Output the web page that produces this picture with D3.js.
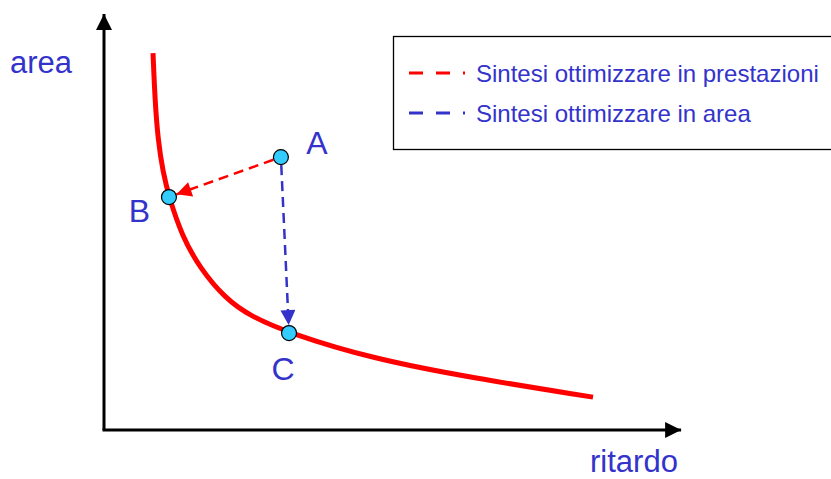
<!DOCTYPE html>
<html>
<head>
<meta charset="utf-8">
<script src="https://cdn.jsdelivr.net/npm/d3@7"></script>
<style>
  body { margin: 0; background: #fff; }
  text { font-family: "Liberation Sans", Arial, sans-serif; }
</style>
</head>
<body>
<svg id="chart" width="831" height="479"></svg>
<script>
// ---- data (abstract units: ritardo on x, area on y)
const curveX = [8.45, 8.79, 9.31, 10.17, 11.21, 13.45, 16.55, 20.86, 25.17, 31.9, 46.38, 63.62, 84.31];
const curveY = [90.6, 79.3, 69.7, 62.0, 56.0, 46.6, 38.9, 31.7, 27.4, 23.3, 17.1, 12.5, 7.9];
const pointNames = ["A", "B", "C"];
const pointX = [30.5, 11.2, 31.9];
const pointY = [65.6, 56.0, 23.3];
const legendLabels = ["Sintesi ottimizzare in prestazioni", "Sintesi ottimizzare in area"];
const legendColors = ["#ff0000", "#3333cc"];

const svg = d3.select("#chart");
const blue = "#3333cc";

const x = d3.scaleLinear().domain([0, 100]).range([104, 684]);
const y = d3.scaleLinear().domain([0, 100]).range([430, 14]);

const defs = svg.append("defs");
function marker(id, color, w, h) {
  defs.append("marker")
    .attr("id", id)
    .attr("viewBox", "0 0 10 10")
    .attr("refX", 10).attr("refY", 5)
    .attr("markerUnits", "userSpaceOnUse")
    .attr("markerWidth", w).attr("markerHeight", h)
    .attr("orient", "auto")
    .append("path")
    .attr("d", "M0,0L10,5L0,10Z")
    .attr("fill", color);
}
marker("axisHead", "#000", 18, 16);
marker("redHead", "#ff0000", 18, 15);
marker("blueHead", blue, 18, 15);

//_________________ axes
svg.append("line")
  .attr("x1", x(0)).attr("y1", y(0))
  .attr("x2", x(0)).attr("y2", y(100))
  .attr("stroke", "#000").attr("stroke-width", 3)
  .attr("marker-end", "url(#axisHead)");
svg.append("line")
  .attr("x1", x(0) - 1.5).attr("y1", y(0))
  .attr("x2", x(99.5)).attr("y2", y(0))
  .attr("stroke", "#000").attr("stroke-width", 3)
  .attr("marker-end", "url(#axisHead)");

svg.append("text").attr("x", 10).attr("y", 73)
  .attr("font-size", 31).attr("fill", blue).text("area");
svg.append("text").attr("x", 590).attr("y", 472)
  .attr("font-size", 31).attr("fill", blue).text("ritardo");

//_________________ curve
const line = d3.line().x(d => x(d[0])).y(d => y(d[1])).curve(d3.curveBasis);
svg.append("path")
  .datum(d3.zip(curveX, curveY))
  .attr("d", line)
  .attr("fill", "none").attr("stroke", "#ff0000").attr("stroke-width", 5);

//_________________ dashed arrows
const A = [x(pointX[0]), y(pointY[0])];
const B = [x(pointX[1]), y(pointY[1])];
const C = [x(pointX[2]), y(pointY[2])];
function shorten(p, q, a, b) {
  const dx = q[0] - p[0], dy = q[1] - p[1], L = Math.hypot(dx, dy);
  return [p[0] + dx * a / L, p[1] + dy * a / L, q[0] - dx * b / L, q[1] - dy * b / L];
}
const r1 = shorten(A, B, 8, 8);
svg.append("line")
  .attr("x1", r1[0]).attr("y1", r1[1]).attr("x2", r1[2]).attr("y2", r1[3])
  .attr("stroke", "#ff0000").attr("stroke-width", 2.5)
  .attr("stroke-dasharray", "10,6")
  .attr("marker-end", "url(#redHead)");
const r2 = shorten(A, C, 8, 8);
svg.append("line")
  .attr("x1", r2[0]).attr("y1", r2[1]).attr("x2", r2[2]).attr("y2", r2[3])
  .attr("stroke", blue).attr("stroke-width", 2.5)
  .attr("stroke-dasharray", "10,6")
  .attr("marker-end", "url(#blueHead)");

//_________________ points
svg.selectAll(".pt")
  .data(pointNames)
  .enter().append("circle")
  .attr("class", "pt")
  .attr("cx", (d, i) => x(pointX[i]))
  .attr("cy", (d, i) => y(pointY[i]))
  .attr("r", 7.5)
  .attr("fill", "#33ccff").attr("stroke", "#000").attr("stroke-width", 1.2);

const labelOff = { A: [36, -3], B: [-29.5, 25], C: [-6, 47] };
svg.selectAll(".lbl")
  .data(pointNames)
  .enter().append("text")
  .attr("class", "lbl")
  .attr("x", (d, i) => x(pointX[i]) + labelOff[d][0])
  .attr("y", (d, i) => y(pointY[i]) + labelOff[d][1])
  .attr("text-anchor", "middle")
  .attr("font-size", 32).attr("fill", blue)
  .text(d => d);

//_________________ legend
svg.append("rect")
  .attr("x", 393.5).attr("y", 36.5).attr("width", 450).attr("height", 113)
  .attr("fill", "#fff").attr("stroke", "#000").attr("stroke-width", 1.3);

const lg = svg.selectAll(".lg")
  .data(legendLabels)
  .enter().append("g")
  .attr("class", "lg")
  .attr("transform", (d, i) => `translate(0, ${73 + i * 40})`);
lg.append("line")
  .attr("x1", 409).attr("x2", 465).attr("y1", 0).attr("y2", 0)
  .attr("stroke", (d, i) => legendColors[i]).attr("stroke-width", 3)
  .attr("stroke-dasharray", "14,13");
lg.append("text")
  .attr("x", 476).attr("y", 9)
  .attr("font-size", 24).attr("fill", blue)
  .text(d => d);
</script>
</body>
</html>
